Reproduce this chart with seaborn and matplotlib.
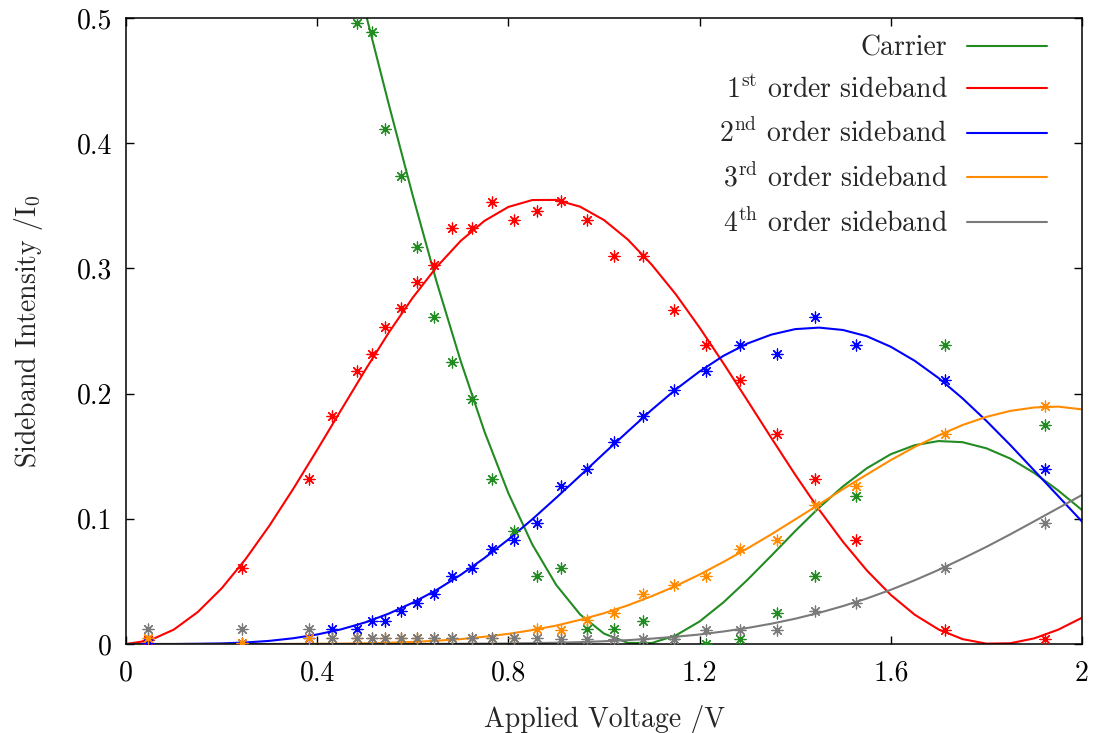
import matplotlib
matplotlib.use('Agg')
import matplotlib.pyplot as plt
import numpy as np
import pandas as pd
import seaborn as sns

nan = np.nan

# measured points (shared voltages)
volt = [0.045, 0.243, 0.383, 0.431, 0.483, 0.514, 0.542, 0.575, 0.608, 0.644,
        0.682, 0.724, 0.766, 0.812, 0.860, 0.911, 0.964, 1.021, 1.082, 1.146,
        1.213, 1.285, 1.361, 1.442, 1.528, 1.713, 1.923]
carrier_pts = [nan, nan, nan, nan, 0.496, 0.489, 0.411, 0.374, 0.317, 0.261,
               0.225, 0.196, 0.132, 0.090, 0.054, 0.061, 0.012, 0.012, 0.018, 0.004,
               0.000, 0.004, 0.025, 0.054, 0.118, 0.239, 0.175]
first_pts = [0.003, 0.061, 0.132, 0.182, 0.218, 0.232, 0.253, 0.268, 0.289, 0.303,
             0.332, 0.332, 0.353, 0.339, 0.346, 0.354, 0.339, 0.310, 0.310, 0.267,
             0.239, 0.211, 0.168, 0.132, 0.083, 0.011, 0.004]
second_pts = [0.001, 0.0005, 0.0045, 0.012, 0.012, 0.0186, 0.018, 0.026, 0.0325, 0.040,
              0.054, 0.061, 0.076, 0.083, 0.097, 0.126, 0.140, 0.161, 0.182, 0.203,
              0.218, 0.239, 0.232, 0.261, 0.239, 0.211, 0.140]
third_pts = [0.0045, 0.0005, 0.0045, 0.0045, 0.0045, 0.0045, 0.0045, 0.0045, 0.0045, 0.0045,
             0.0045, 0.0045, 0.0045, 0.0045, 0.0117, 0.011, 0.019, 0.025, 0.040, 0.047,
             0.054, 0.076, 0.083, 0.111, 0.126, 0.168, 0.190]
fourth_pts = [0.0117, 0.0117, 0.0117, 0.0045, 0.0045, 0.0045, 0.0045, 0.0045, 0.0045, 0.0045,
              0.0045, 0.0045, 0.0045, 0.0045, 0.0045, 0.004, 0.004, 0.004, 0.004, 0.004,
              0.011, 0.011, 0.011, 0.026, 0.033, 0.061, 0.097]

# fitted curves, every 0.05 V from 0 to 2
fit_v = [0.00, 0.05, 0.10, 0.15, 0.20, 0.25, 0.30, 0.35, 0.40, 0.45,
         0.50, 0.55, 0.60, 0.65, 0.70, 0.75, 0.80, 0.85, 0.90, 0.95,
         1.00, 1.05, 1.10, 1.15, 1.20, 1.25, 1.30, 1.35, 1.40, 1.45,
         1.50, 1.55, 1.60, 1.65, 1.70, 1.75, 1.80, 1.85, 1.90, 1.95, 2.00]
carrier_fit = [1.000, 0.994, 0.975, 0.945, 0.904, 0.852, 0.793, 0.727, 0.656, 0.581,
               0.5057, 0.4307, 0.358, 0.289, 0.2262, 0.1696, 0.1204, 0.0795, 0.0472, 0.0236,
               0.0083, 0.0009, 0.0008, 0.0068, 0.0180, 0.0333, 0.0512, 0.0705, 0.0902, 0.1089,
               0.1259, 0.1404, 0.1516, 0.1588, 0.1621, 0.1612, 0.1563, 0.1481, 0.1366, 0.1227, 0.1070]
first_fit = [0.0, 0.0029, 0.0115, 0.0255, 0.0444, 0.0677, 0.0945, 0.1240, 0.1551, 0.1869,
             0.2185, 0.2489, 0.2767, 0.3012, 0.3219, 0.3380, 0.3491, 0.3546, 0.3547, 0.3493,
             0.3386, 0.3230, 0.3029, 0.2794, 0.2527, 0.2241, 0.1945, 0.1646, 0.1352, 0.1073,
             0.0816, 0.0587, 0.0392, 0.0234, 0.0116, 0.0039, 0.0003, 0.0006, 0.0045, 0.0114, 0.0210]
second_fit = [0.0, 0.0, 0.0, 0.0002, 0.0005, 0.0012, 0.0025, 0.0046, 0.0076, 0.0117,
              0.0172, 0.0243, 0.0330, 0.0432, 0.0552, 0.0687, 0.0835, 0.0996, 0.1168, 0.1344,
              0.1523, 0.1698, 0.1871, 0.2033, 0.2177, 0.2302, 0.2400, 0.2471, 0.2515, 0.2527,
              0.2508, 0.2458, 0.2374, 0.2262, 0.2124, 0.1962, 0.1782, 0.1589, 0.1386, 0.1182, 0.0978]
third_fit = [0.0, 0.0, 0.0, 0.0, 0.0, 0.0, 0.0, 0.0001, 0.0002, 0.0003,
             0.0006, 0.0010, 0.0017, 0.0026, 0.0039, 0.0058, 0.0081, 0.0111, 0.0147, 0.0193,
             0.0246, 0.0309, 0.0382, 0.0463, 0.0555, 0.0656, 0.0763, 0.0876, 0.0995, 0.1115,
             0.1237, 0.1354, 0.1469, 0.1574, 0.1666, 0.1749, 0.1814, 0.1862, 0.1889, 0.1896, 0.1874]
fourth_fit = [0.0, 0.0, 0.0, 0.0, 0.0, 0.0, 0.0, 0.0, 0.0, 0.0,
              0.0, 0.0, 0.0, 0.0001, 0.0002, 0.0003, 0.0004, 0.0007, 0.0010, 0.0015,
              0.0022, 0.0031, 0.0043, 0.0058, 0.0076, 0.0100, 0.0128, 0.0162, 0.0202, 0.0249,
              0.0303, 0.0364, 0.0433, 0.0509, 0.0592, 0.0682, 0.0776, 0.0876, 0.0980, 0.1085, 0.1190]

labels = ['Carrier', r'$1^{\mathrm{st}}$ order sideband', r'$2^{\mathrm{nd}}$ order sideband',
          r'$3^{\mathrm{rd}}$ order sideband', r'$4^{\mathrm{th}}$ order sideband']
colors = ['#228b22', '#ff0000', '#0000ff', '#ff8c00', '#7a7a7a']
pts = [carrier_pts, first_pts, second_pts, third_pts, fourth_pts]
fits = [carrier_fit, first_fit, second_fit, third_fit, fourth_fit]

sns.set_theme(style='ticks')
plt.rcParams['font.family'] = ['cmr10', 'DejaVu Serif']
plt.rcParams['mathtext.fontset'] = 'cm'
plt.rcParams['axes.formatter.use_mathtext'] = True

fig = plt.figure(figsize=(10.94, 7.33), dpi=100)
ax = fig.add_axes([126/1094, 1 - 644/733, 956/1094, 626/733])

for lab, col, p, f in zip(labels, colors, pts, fits):
    df_fit = pd.DataFrame({'V': fit_v, 'I': f})
    sns.lineplot(data=df_fit, x='V', y='I', color=col, lw=1.5, label=lab, ax=ax, sort=False)
    df_pts = pd.DataFrame({'V': volt, 'I': p}).dropna()
    sns.scatterplot(data=df_pts, x='V', y='I', color=col, marker=(8, 2, 0), s=62,
                    linewidth=0.9, ax=ax, zorder=3, clip_on=True)

ax.set_xlim(0, 2)
ax.set_ylim(0, 0.5)
ax.set_xticks([0, 0.4, 0.8, 1.2, 1.6, 2.0])
ax.set_xticklabels(['0', '0.4', '0.8', '1.2', '1.6', '2'])
ax.set_yticks([0, 0.1, 0.2, 0.3, 0.4, 0.5])
ax.set_yticklabels(['0', '0.1', '0.2', '0.3', '0.4', '0.5'])
ax.tick_params(direction='in', top=True, right=True, length=6, width=1,
               labelsize=20, colors='black', pad=10)
ax.tick_params(axis='x', pad=12)
for s in ax.spines.values():
    s.set_visible(True)
    s.set_linewidth(1.1)
    s.set_color('black')

ax.set_xlabel('Applied Voltage /V', fontsize=20, labelpad=13)
ax.set_ylabel(r'Sideband Intensity /$\mathrm{I}_0$', fontsize=20, labelpad=23)

leg = ax.legend(loc='upper right', bbox_to_anchor=(0.963, 0.973), frameon=False,
                markerfirst=False, fontsize=20, handlelength=2.85, handletextpad=0.72,
                labelspacing=0.55, borderpad=0, borderaxespad=0)
for h in leg.get_lines():
    h.set_linewidth(1.5)

fig.savefig('out.png', dpi=100)
